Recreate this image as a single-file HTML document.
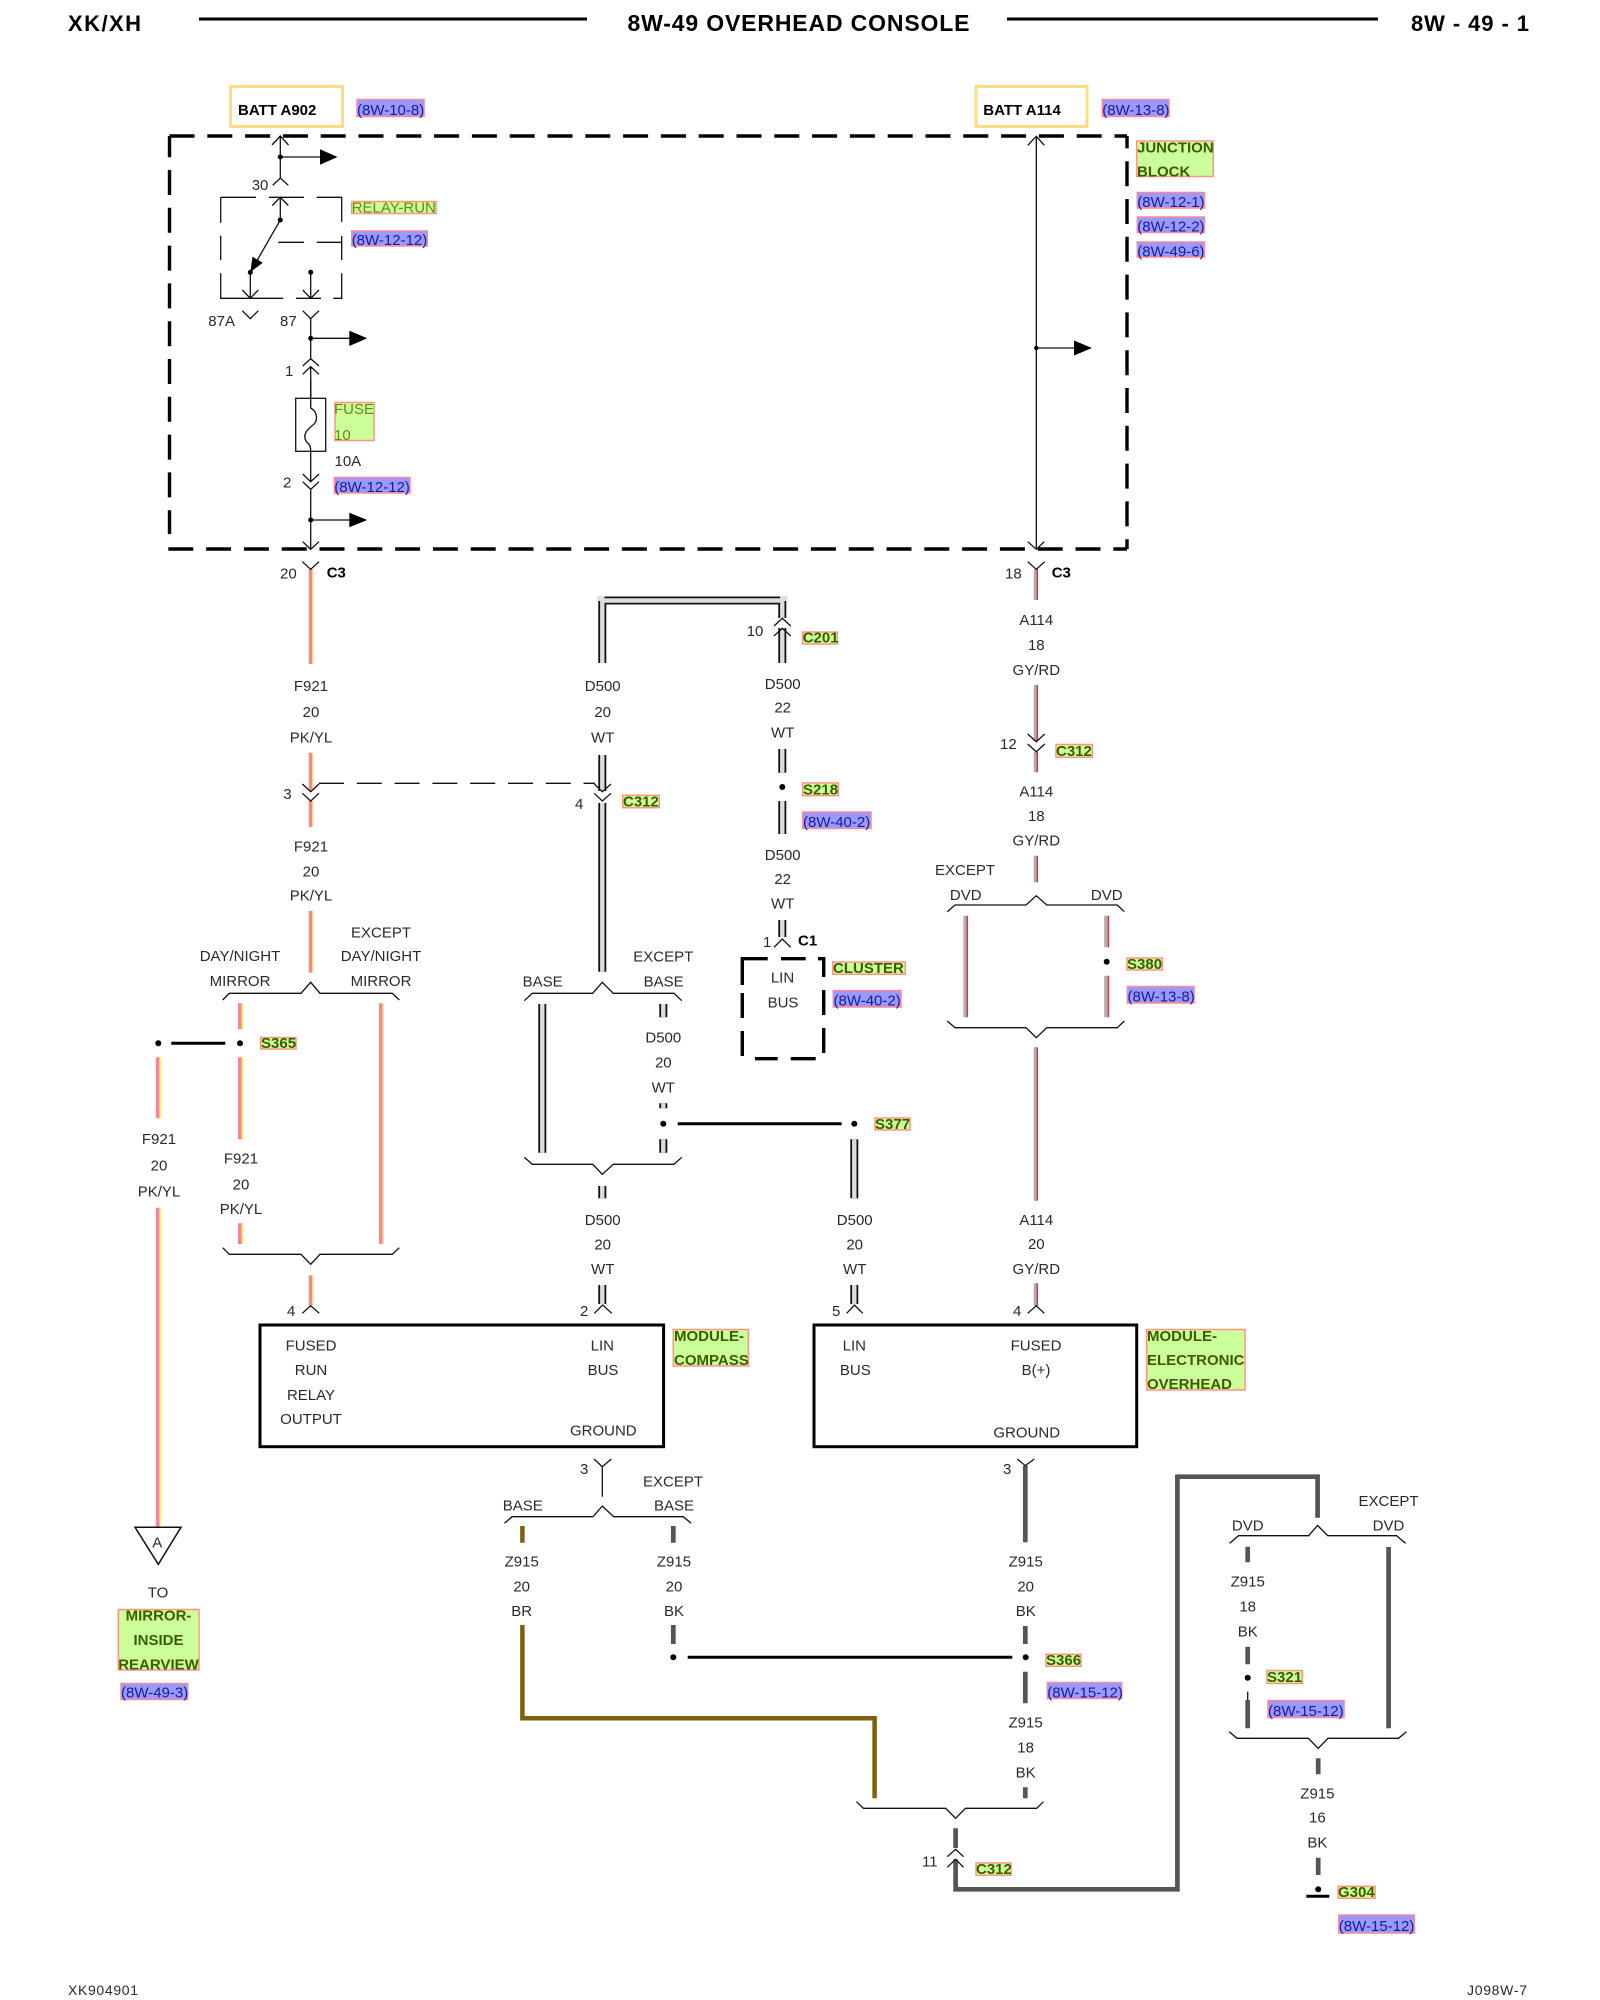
<!DOCTYPE html>
<html>
<head>
<meta charset="utf-8">
<title>8W-49 OVERHEAD CONSOLE</title>
<style>
html,body{margin:0;padding:0;background:#fff;}
svg{display:block;}
text{font-family:"Liberation Sans",Arial,sans-serif;font-size:15px;fill:#2a2a2a;}
.m{text-anchor:middle;}
.b{font-weight:bold;fill:#000;}
.g{font-weight:bold;fill:#3d5c00;}
.r{fill:#668a10;}
.u{fill:#1a1a99;}
.gb{fill:#ccff99;stroke:#ff9580;stroke-width:1.5;}
.bb{fill:#9999ff;stroke:#ff8899;stroke-width:1.5;}
.yb{fill:#fff;stroke:#ffdd80;stroke-width:3;}
.thin{fill:none;stroke:#111;stroke-width:1.3;}
.pk{fill:none;stroke:#f4859a;stroke-width:3.6;}
.yl{fill:none;stroke:#ffee55;stroke-width:1.4;}
.gy{fill:none;stroke:#b4acac;stroke-width:3.2;}
.rd{fill:none;stroke:#e03040;stroke-width:1.5;}
.wo{fill:none;stroke:#111;stroke-width:8;}
.wi{fill:none;stroke:#ddd;stroke-width:4.4;}
.bk{fill:none;stroke:#555;stroke-width:4.7;}
.br{fill:none;stroke:#806010;stroke-width:4.5;}
.tk{fill:none;stroke:#000;stroke-width:3;}
.dk{fill:none;stroke:#000;stroke-width:3.4;}
</style>
</head>
<body>
<svg width="1600" height="2000" viewBox="0 0 1600 2000" xmlns="http://www.w3.org/2000/svg">
<rect width="1600" height="2000" fill="#fff"/>

<!-- header -->
<text x="68" y="31" class="b" style="font-size:22px" textLength="73">XK/XH</text>
<path class="tk" d="M199 19H587M1007 19H1378"/>
<text x="627.5" y="31" class="b" style="font-size:23px" textLength="342">8W-49 OVERHEAD CONSOLE</text>
<text x="1411" y="31" class="b" style="font-size:22px" textLength="118">8W - 49 - 1</text>
<text x="68" y="1995" style="font-size:14px" textLength="70">XK904901</text>
<text x="1467" y="1995" style="font-size:14px" textLength="60">J098W-7</text>

<!-- junction block dashed -->
<path class="dk" stroke-dasharray="25 12.8" d="M169.5 136H1127"/>
<path class="dk" stroke-dasharray="25 12.8" stroke-dashoffset="3.8" d="M169.5 136V534"/>
<path class="dk" stroke-dasharray="25 12.8" d="M168.3 549H1127"/>
<path class="dk" stroke-dasharray="25 12.8" stroke-dashoffset="12.6" d="M1127 136V549"/>

<!-- relay dashed -->
<path class="thin" d="M220.7 197.3H256M269 197.3H304M316.7 197.3H341.7V222M220.7 197.3V222.7M220.7 235.7V260M220.7 273.3V298.3H283.3M296 298.3H321M333.3 298.3H341.7V273.3M341.7 236V260M278.3 242.3H304M316.7 242.3H341.7"/>

<!-- wires PK/YL -->
<path class="pk" d="M310.5 569V664M310.5 752.7V791M310.5 801V827M310.5 910.7V972.7M310.5 1275.3V1305M239.8 1003.3V1029.3M239.8 1057.3V1139.3M239.8 1223.3V1244M380.7 1003.3V1244M157.6 1057.3V1118.3M157.6 1207.7V1527"/>
<path class="yl" d="M313 569V664M313 752.7V791M313 801V827M313 910.7V972.7M313 1275.3V1305M242.3 1003.3V1029.3M242.3 1057.3V1139.3M242.3 1223.3V1244M383.2 1003.3V1244M160.1 1057.3V1118.3M160.1 1207.7V1527"/>

<!-- wires GY/RD -->
<path class="gy" d="M1035.3 569V600M1035.3 685V741M1035.3 751.7V772.3M1035.3 855.7V882.3M1035.3 1047.3V1200.7M1035.3 1283.3V1305.7M965 915.7V1017.3M1105.8 915.7V947.3M1105.8 975.7V1017.3"/>
<path class="rd" d="M1037.3 569V600M1037.3 685V741M1037.3 751.7V772.3M1037.3 855.7V882.3M1037.3 1047.3V1200.7M1037.3 1283.3V1305.7M967.3 915.7V1017.3M1108.3 915.7V947.3M1108.3 975.7V1017.3"/>

<!-- wires WT -->
<path class="wo" d="M602.3 663V600.5H782.3V618M782.3 628V663M782.3 749V772.7M782.3 801V834M782.3 920V937M602.3 755V791M602.3 803V971.7M542.3 1004V1152.7M663.3 1004V1017.3M663.3 1103.3V1108.3M663.3 1139.3V1152.7M854.3 1139.3V1198.3M602.3 1186V1198.3M602.3 1285V1304M854.3 1285V1304"/>
<path class="wi" d="M602.3 663V600.5H782.3V618M782.3 628V663M782.3 749V772.7M782.3 801V834M782.3 920V937M602.3 755V791M602.3 803V971.7M542.3 1004V1152.7M663.3 1004V1017.3M663.3 1103.3V1108.3M663.3 1139.3V1152.7M854.3 1139.3V1198.3M602.3 1186V1198.3M602.3 1285V1304M854.3 1285V1304"/>
<rect x="597.5" y="596" width="7" height="5" fill="#ddd"/>
<rect x="780" y="596" width="7.5" height="5" fill="#ddd"/>

<!-- wires BK, BR -->
<path class="bk" d="M1025.3 1465.7V1542.3M1025.3 1626V1644M1025.3 1671.7V1703.3M1025.3 1787.3V1798.3M673.3 1526V1542.7M673.3 1625V1644M955.6 1828.3V1848M955.6 1859.3V1889.3H1177.4V1476.7H1317.6V1517.8M1247.7 1546.7V1562.3M1247.7 1646.7V1664.3M1247.7 1700V1728.3M1388.6 1547V1728.3M1318.2 1758.3V1774.3M1318.2 1857.7V1875"/>
<path class="br" d="M522.4 1526V1542.7M522.4 1625V1718.3H874.6V1798.3"/>

<!-- splice bars -->
<path class="tk" d="M171.3 1043.3H225.3M677.7 1123.7H841.7M687.7 1657.3H1012.3M1306.3 1896.3H1329.3"/>

<!-- thin lines, chevrons -->
<path class="thin" d="
M280.3 136V178M272 145L280.3 136L288.5 145M272.7 185.3L280.3 178L288.3 185.3M280.3 157H320
M272.3 205.5L280.3 197.3L288.3 205.5M280.3 197.3V220L250.3 272.3V298.3M242.3 290L250.3 298.3L258.3 290
M310.7 272.3V298.3M302.7 290L310.7 298.3L319 290
M242.3 310.7L250.3 318.7L258.3 310.7M302.7 310.7L310.7 318.7L319 310.7M310.7 318.7V358.7M310.7 338.3H350
M302.7 366L310.7 358.7L319 366M302.7 374.3L310.7 366.7L319 374.3M310.7 366.7V398.3
M310.7 451.3V481.7M302.7 474L310.7 481.7L319 474M302.7 481.7L310.7 489.3L319 481.7M310.7 489.3V549M310.7 520H350
M302.7 541.7L310.7 549.3L319 541.7
M1036.3 136V549M1027.7 145.3L1036.3 136.3L1044.3 145.3M1027.7 541.7L1036.3 549.3L1044.3 541.7M1036.3 348H1074
M302.3 561.7L310.7 569.3L319 561.7M1027.7 561.7L1036.3 569.3L1044.7 561.7
M302.3 784L310.7 791.7L319 784M302.3 793.3L310.7 801L319 793.3
M594.3 784L602.3 791.7L611 784M594.3 793.3L602.3 801L611 793.3
M1027.7 734L1036.3 741.7L1044.7 734M1027.7 744L1036.3 751.7L1044.7 744
M774 626L782.3 618.3L790.7 626M774 636L782.3 628.3L790.7 636
M774 947.3L782.3 939L790.7 947.3
M222.7 1000L229.3 993.3H301L310.7 982.3L320 993.3H392.3L399.3 1000
M222.7 1247.7L229.3 1254.3H301L310.7 1264.3L320 1254.3H392.3L399.3 1247.7
M524.3 1000.7L532.3 993.3H592.7L602.3 982.3L613.3 993.3H674L681.7 1000.7
M524.3 1157.3L532.3 1164.3H592.7L602.3 1174.3L613.3 1164.3H674L681.7 1157.3
M947.3 911.7L955 905H1026L1036.3 895.7L1046.7 905H1117.3L1124.3 911.7
M947.3 1021L955 1027.7H1026L1036.3 1037.7L1046.7 1027.7H1117.3L1124.3 1021
M302.3 1313.3L310.7 1305.7L319.3 1313.3M594.3 1313.3L602.7 1305L611.7 1313.3M846.7 1313.3L854.5 1305L862.7 1313.3M1027.7 1313.3L1036.3 1305.7L1044.3 1313.3
M594 1459L602.3 1466.7L611.3 1459M602.3 1466.7V1496.7M1017.3 1459L1025.3 1465.7L1034.3 1459
M504.5 1523.3L512 1516.7H593L602.3 1506L613.7 1516.7H683.2L691.2 1523.3
M856.4 1801.7L863.5 1808.3H945.7L955.6 1818.3L965.5 1808.3H1036.7L1043.4 1801.7
M947.3 1856.7L955.6 1849.3L963.5 1856.7M947.3 1867.3L955.6 1859.3L963.5 1867.3
M1229.6 1543.4L1238.5 1535.7H1308.6L1317.6 1525.5L1327.8 1535.7H1396.7L1405.6 1543.4
M1229.2 1731.7L1237.1 1738.3H1308.3L1318.2 1748.3L1328.1 1738.3H1398.5L1406.4 1731.7
M1247.7 1691.7V1700"/>
<path class="thin" stroke-dasharray="25 12.8" d="M319 783.3H595"/>

<!-- fuse -->
<rect x="295.7" y="398.3" width="30" height="53" fill="#fff" stroke="#111" stroke-width="1.3"/>
<path class="thin" d="M310.7 380V408C318 412 318 421 313 425C305 431 303 436 306 441C308 444 310.7 444 310.7 451"/>

<!-- triangles -->
<path d="M320 149.3V164.7L337.5 157ZM349.3 330.7V346L367.3 338.3ZM349.3 512.7V527.3L367.3 520ZM1074 340.5V355.5L1092 348ZM252.5 256.7L262.7 262.7L250.3 272.3Z" fill="#000"/>

<!-- dots -->
<g fill="#000">
<circle cx="280.3" cy="157" r="2.5"/><circle cx="280.3" cy="220" r="2.5"/><circle cx="250.3" cy="272.3" r="2.5"/><circle cx="310.7" cy="272.3" r="2.5"/><circle cx="310.7" cy="338.3" r="2.5"/><circle cx="310.7" cy="520" r="2.5"/><circle cx="1036.3" cy="348" r="2.2"/>
<circle cx="782.3" cy="787" r="3"/><circle cx="240" cy="1043.3" r="3"/><circle cx="158.3" cy="1043.3" r="3"/><circle cx="663.3" cy="1123.7" r="3"/><circle cx="854.3" cy="1123.7" r="3"/><circle cx="1106.7" cy="961.7" r="3"/><circle cx="673.3" cy="1657.3" r="3"/><circle cx="1025.7" cy="1657.3" r="3"/><circle cx="1247.7" cy="1677.7" r="3"/><circle cx="1318.2" cy="1889.3" r="3"/>
</g>

<!-- cluster box -->
<path class="dk" d="M742.3 985V958.7H767.7M781 958.7H805.7M818 958.7H823.7V977M742.3 993V1018M742.3 1031V1056M755 1058.7H777.7M790.7 1058.7H815.7M823.7 990V1015M823.7 1028V1053"/>

<!-- modules -->
<rect x="260" y="1325" width="403.6" height="121.7" fill="none" stroke="#000" stroke-width="3"/>
<rect x="814" y="1325" width="322.7" height="121.7" fill="none" stroke="#000" stroke-width="3"/>

<!-- off-page triangle -->
<path d="M135 1527.3H181L158.3 1564.3Z" fill="#fff" stroke="#111" stroke-width="1.5"/>

<!-- boxes -->
<rect class="yb" x="230.5" y="86.5" width="112" height="40"/>
<rect class="yb" x="976" y="86.5" width="111" height="40"/>
<text x="238" y="115" class="b">BATT A902</text>
<text x="983.3" y="115" class="b">BATT A114</text>

<rect class="bb" x="357" y="99.5" width="67" height="17"/><text x="357" y="115" class="u">(8W-10-8)</text>
<rect class="bb" x="1102.3" y="99.5" width="66.7" height="17"/><text x="1102.3" y="115" class="u">(8W-13-8)</text>
<rect class="bb" x="351.7" y="231" width="75.6" height="15"/><text x="351.7" y="245" class="u">(8W-12-12)</text>
<rect class="bb" x="334.3" y="477.5" width="75.7" height="15.5"/><text x="334.3" y="492" class="u">(8W-12-12)</text>
<rect class="bb" x="1137.3" y="192.5" width="67" height="15.5"/><text x="1137.3" y="207" class="u">(8W-12-1)</text>
<rect class="bb" x="1137.3" y="217" width="67" height="15.5"/><text x="1137.3" y="231.5" class="u">(8W-12-2)</text>
<rect class="bb" x="1137.3" y="242" width="67" height="15"/><text x="1137.3" y="256.5" class="u">(8W-49-6)</text>
<rect class="bb" x="802.7" y="812" width="68.3" height="16.5"/><text x="803" y="827" class="u">(8W-40-2)</text>
<rect class="bb" x="833.3" y="990.5" width="67.7" height="16.5"/><text x="833.5" y="1005.5" class="u">(8W-40-2)</text>
<rect class="bb" x="1127.3" y="986.5" width="66.7" height="16.5"/><text x="1127.5" y="1001.5" class="u">(8W-13-8)</text>
<rect class="bb" x="121" y="1683.5" width="66.7" height="16"/><text x="121" y="1697.5" class="u">(8W-49-3)</text>
<rect class="bb" x="1047.3" y="1682.5" width="74.4" height="16"/><text x="1047.3" y="1697.5" class="u">(8W-15-12)</text>
<rect class="bb" x="1268" y="1700.5" width="76" height="17"/><text x="1268" y="1716" class="u">(8W-15-12)</text>
<rect class="bb" x="1338.8" y="1915" width="75.5" height="18"/><text x="1338.8" y="1931" class="u">(8W-15-12)</text>

<rect class="gb" x="351.7" y="201.5" width="84.3" height="12"/><text x="351.7" y="212.7" class="r">RELAY-RUN</text>
<rect class="gb" x="335" y="402.5" width="39" height="38"/><text x="334" y="414" class="r">FUSE</text><text x="334" y="440" class="r">10</text>
<rect class="gb" x="1136.7" y="141" width="76.6" height="35.5"/><text x="1137" y="152.3" class="g">JUNCTION</text><text x="1137" y="176.7" class="g">BLOCK</text>
<rect class="gb" x="802.7" y="632" width="34.6" height="12"/><text x="802.7" y="642.7" class="g">C201</text>
<rect class="gb" x="622.7" y="795.3" width="36.6" height="12.4"/><text x="623" y="806.5" class="g">C312</text>
<rect class="gb" x="1056" y="744.5" width="36.3" height="12.8"/><text x="1056" y="756" class="g">C312</text>
<rect class="gb" x="802.7" y="783" width="35.6" height="12.7"/><text x="803" y="794.5" class="g">S218</text>
<rect class="gb" x="832.7" y="962" width="72.6" height="12.3"/><text x="833" y="973" class="g">CLUSTER</text>
<rect class="gb" x="1127" y="958" width="35.3" height="12"/><text x="1127" y="969" class="g">S380</text>
<rect class="gb" x="260.7" y="1037.5" width="35.3" height="11.5"/><text x="261" y="1048" class="g">S365</text>
<rect class="gb" x="875" y="1118" width="35" height="12"/><text x="875" y="1129" class="g">S377</text>
<rect class="gb" x="673.3" y="1329.5" width="75" height="36.5"/><text x="674" y="1341" class="g">MODULE-</text><text x="674" y="1365" class="g">COMPASS</text>
<rect class="gb" x="1146.7" y="1329.5" width="98.3" height="60.5"/><text x="1147" y="1341" class="g">MODULE-</text><text x="1147" y="1365" class="g">ELECTRONIC</text><text x="1147" y="1389" class="g">OVERHEAD</text>
<rect class="gb" x="118.3" y="1609.5" width="80.7" height="60.5"/><text x="158.5" y="1620.7" class="g m">MIRROR-</text><text x="158.5" y="1645" class="g m">INSIDE</text><text x="158.5" y="1669.3" class="g m">REARVIEW</text>
<rect class="gb" x="1046" y="1654.3" width="35" height="12"/><text x="1046" y="1665" class="g">S366</text>
<rect class="gb" x="1267" y="1670.5" width="35.2" height="13"/><text x="1267" y="1682" class="g">S321</text>
<rect class="gb" x="976" y="1863" width="35" height="12.3"/><text x="976" y="1874" class="g">C312</text>
<rect class="gb" x="1338" y="1886.3" width="37" height="12"/><text x="1338" y="1897" class="g">G304</text>

<!-- pins and connector names -->
<text x="251.7" y="190">30</text>
<text x="208.3" y="326">87A</text>
<text x="280" y="326">87</text>
<text x="285" y="376">1</text>
<text x="334.5" y="466">10A</text>
<text x="283" y="487.3">2</text>
<text x="280" y="578.3">20</text>
<text x="326.7" y="577.7" class="b">C3</text>
<text x="1005" y="578.3">18</text>
<text x="1051.7" y="577.7" class="b">C3</text>
<text x="746.7" y="636">10</text>
<text x="283.3" y="799">3</text>
<text x="575" y="809">4</text>
<text x="1000" y="749">12</text>
<text x="763" y="947">1</text>
<text x="798" y="945.5" class="b">C1</text>
<text x="287" y="1316">4</text>
<text x="580" y="1316">2</text>
<text x="832" y="1316">5</text>
<text x="1013" y="1316">4</text>
<text x="580" y="1474">3</text>
<text x="1003" y="1474">3</text>
<text x="922" y="1866.7">11</text>

<!-- wire labels -->
<text class="m" x="311" y="691">F921</text><text class="m" x="311" y="717">20</text><text class="m" x="311" y="742.7">PK/YL</text>
<text class="m" x="311" y="851.5">F921</text><text class="m" x="311" y="876.7">20</text><text class="m" x="311" y="900.7">PK/YL</text>
<text class="m" x="240" y="961.2">DAY/NIGHT</text><text class="m" x="240" y="986">MIRROR</text>
<text class="m" x="381" y="937.7">EXCEPT</text><text class="m" x="381" y="961.2">DAY/NIGHT</text><text class="m" x="381" y="986">MIRROR</text>
<text class="m" x="159" y="1144">F921</text><text class="m" x="159" y="1170.7">20</text><text class="m" x="159" y="1196.7">PK/YL</text>
<text class="m" x="241" y="1163.5">F921</text><text class="m" x="241" y="1189.3">20</text><text class="m" x="241" y="1214">PK/YL</text>
<text class="m" x="602.7" y="691">D500</text><text class="m" x="602.7" y="717">20</text><text class="m" x="602.7" y="742.5">WT</text>
<text class="m" x="782.7" y="689">D500</text><text class="m" x="782.7" y="712.5">22</text><text class="m" x="782.7" y="737.3">WT</text>
<text class="m" x="782.7" y="860">D500</text><text class="m" x="782.7" y="884">22</text><text class="m" x="782.7" y="908.5">WT</text>
<text class="m" x="782.5" y="982.3">LIN</text><text class="m" x="783" y="1007.5">BUS</text>
<text class="m" x="542.7" y="986.5">BASE</text><text class="m" x="663.3" y="961.5">EXCEPT</text><text class="m" x="663.7" y="986.5">BASE</text>
<text class="m" x="663.3" y="1042.7">D500</text><text class="m" x="663.3" y="1067.7">20</text><text class="m" x="663.3" y="1092.7">WT</text>
<text class="m" x="602.7" y="1225">D500</text><text class="m" x="602.7" y="1249.3">20</text><text class="m" x="602.7" y="1274">WT</text>
<text class="m" x="854.7" y="1225">D500</text><text class="m" x="854.7" y="1249.3">20</text><text class="m" x="854.7" y="1274">WT</text>
<text class="m" x="1036.3" y="625">A114</text><text class="m" x="1036.3" y="650">18</text><text class="m" x="1036.3" y="675">GY/RD</text>
<text class="m" x="1036.3" y="796.7">A114</text><text class="m" x="1036.3" y="821">18</text><text class="m" x="1036.3" y="845.7">GY/RD</text>
<text class="m" x="965" y="875">EXCEPT</text><text class="m" x="965.7" y="900">DVD</text><text class="m" x="1106.7" y="900">DVD</text>
<text class="m" x="1036.3" y="1225">A114</text><text class="m" x="1036.3" y="1249">20</text><text class="m" x="1036.3" y="1274">GY/RD</text>
<text class="m" x="311" y="1350.7">FUSED</text><text class="m" x="311" y="1375">RUN</text><text class="m" x="311" y="1400">RELAY</text><text class="m" x="311" y="1424">OUTPUT</text>
<text class="m" x="602.3" y="1350.7">LIN</text><text class="m" x="603" y="1375">BUS</text><text class="m" x="603.3" y="1435.7">GROUND</text>
<text class="m" x="854.3" y="1350.7">LIN</text><text class="m" x="855.3" y="1375">BUS</text><text class="m" x="1036" y="1350.7">FUSED</text><text class="m" x="1036" y="1375">B(+)</text><text class="m" x="1026.7" y="1437.7">GROUND</text>
<text class="m" x="673" y="1486.7">EXCEPT</text><text class="m" x="522.8" y="1510.7">BASE</text><text class="m" x="674" y="1510.7">BASE</text>
<text class="m" x="521.7" y="1566.7">Z915</text><text class="m" x="521.7" y="1591.7">20</text><text class="m" x="521.7" y="1616">BR</text>
<text class="m" x="674" y="1566.7">Z915</text><text class="m" x="674" y="1591.7">20</text><text class="m" x="674" y="1616">BK</text>
<text class="m" x="1025.7" y="1566.7">Z915</text><text class="m" x="1025.7" y="1591.7">20</text><text class="m" x="1025.7" y="1616">BK</text>
<text class="m" x="1025.6" y="1727.7">Z915</text><text class="m" x="1025.6" y="1752.7">18</text><text class="m" x="1025.6" y="1777.3">BK</text>
<text class="m" x="1388.5" y="1506">EXCEPT</text><text class="m" x="1247.7" y="1530.7">DVD</text><text class="m" x="1388.5" y="1530.7">DVD</text>
<text class="m" x="1247.7" y="1586.7">Z915</text><text class="m" x="1247.7" y="1611.7">18</text><text class="m" x="1247.7" y="1636.7">BK</text>
<text class="m" x="1317.4" y="1798.3">Z915</text><text class="m" x="1317.4" y="1822.7">16</text><text class="m" x="1317.4" y="1847.3">BK</text>
<text class="m" x="157.3" y="1547.7">A</text><text class="m" x="158" y="1597.7">TO</text>
</svg>
</body>
</html>
